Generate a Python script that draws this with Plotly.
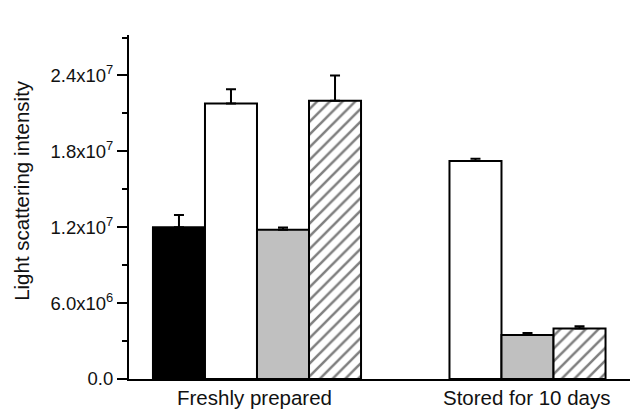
import plotly.graph_objects as go

groups = ["Freshly prepared", "Stored for 10 days"]
group_x = [0, 1]
label_x = [-0.012, 1.104]

black_vals = [1.20e7, None]
black_err = [0.97e6, None]
white_vals = [2.179e7, 1.723e7]
white_err = [1.13e6, 0.19e6]
gray_vals = [1.181e7, 3.47e6]
gray_err = [0.16e6, 0.16e6]
hatch_vals = [2.20e7, 4.00e6]
hatch_err = [2.00e6, 0.18e6]

ytick_vals = [0, 6e6, 1.2e7, 1.8e7, 2.4e7]
ytick_text = ["0.0", "6.0x10<sup>6</sup>", "1.2x10<sup>7</sup>", "1.8x10<sup>7</sup>", "2.4x10<sup>7</sup>"]

FONT = "Liberation Sans, Arial, sans-serif"

def err(arr):
    return dict(type="data", array=arr, arrayminus=[0] * len(arr), symmetric=False,
                color="black", thickness=2, width=5)

fig = go.Figure()
fig.add_bar(x=group_x, y=black_vals, error_y=err(black_err),
            marker=dict(color="black", line=dict(color="black", width=2)))
fig.add_bar(x=group_x, y=white_vals, error_y=err(white_err),
            marker=dict(color="white", line=dict(color="black", width=2)))
fig.add_bar(x=group_x, y=gray_vals, error_y=err(gray_err),
            marker=dict(color="#c0c0c0", line=dict(color="black", width=2)))
fig.add_bar(x=group_x, y=hatch_vals, error_y=err(hatch_err),
            marker=dict(color="white", line=dict(color="black", width=2),
                        pattern=dict(shape="/", fgcolor="black", bgcolor="white",
                                     size=9, solidity=0.28)))

annotations = [
    dict(x=lx, y=0, xref="x", yref="paper", text=g, showarrow=False,
         yanchor="top", yshift=-5, font=dict(family=FONT, size=20.5, color="#111"))
    for lx, g in zip(label_x, groups)
]
annotations.append(dict(x=0, y=0.547, xref="paper", yref="paper",
                        text="Light scattering intensity", textangle=-90,
                        showarrow=False, xanchor="center", yanchor="middle",
                        xshift=-107, font=dict(family=FONT, size=20.5, color="#111")))

fig.update_layout(
    width=630, height=410,
    margin=dict(l=129, r=0, t=35, b=31),
    paper_bgcolor="white", plot_bgcolor="white",
    barmode="group", bargap=0.149, bargroupgap=0,
    showlegend=False,
    annotations=annotations,
    font=dict(family=FONT, color="#111"),
    xaxis=dict(range=[-0.5235, 1.5256], showline=True, linecolor="black", linewidth=2,
               showgrid=False, zeroline=False, showticklabels=False, ticks=""),
    yaxis=dict(range=[0, 2.72e7], showline=True, linecolor="black", linewidth=2,
               showgrid=False, zeroline=False, ticks="outside", ticklen=10, tickwidth=2,
               tickcolor="black", tickvals=ytick_vals, ticktext=ytick_text,
               tickfont=dict(family=FONT, size=18.5, color="#111"),
               minor=dict(ticks="outside", ticklen=5, tickwidth=2, tickcolor="black",
                          dtick=3e6, tick0=0, showgrid=False)),
)

fig.write_html("out.html")
